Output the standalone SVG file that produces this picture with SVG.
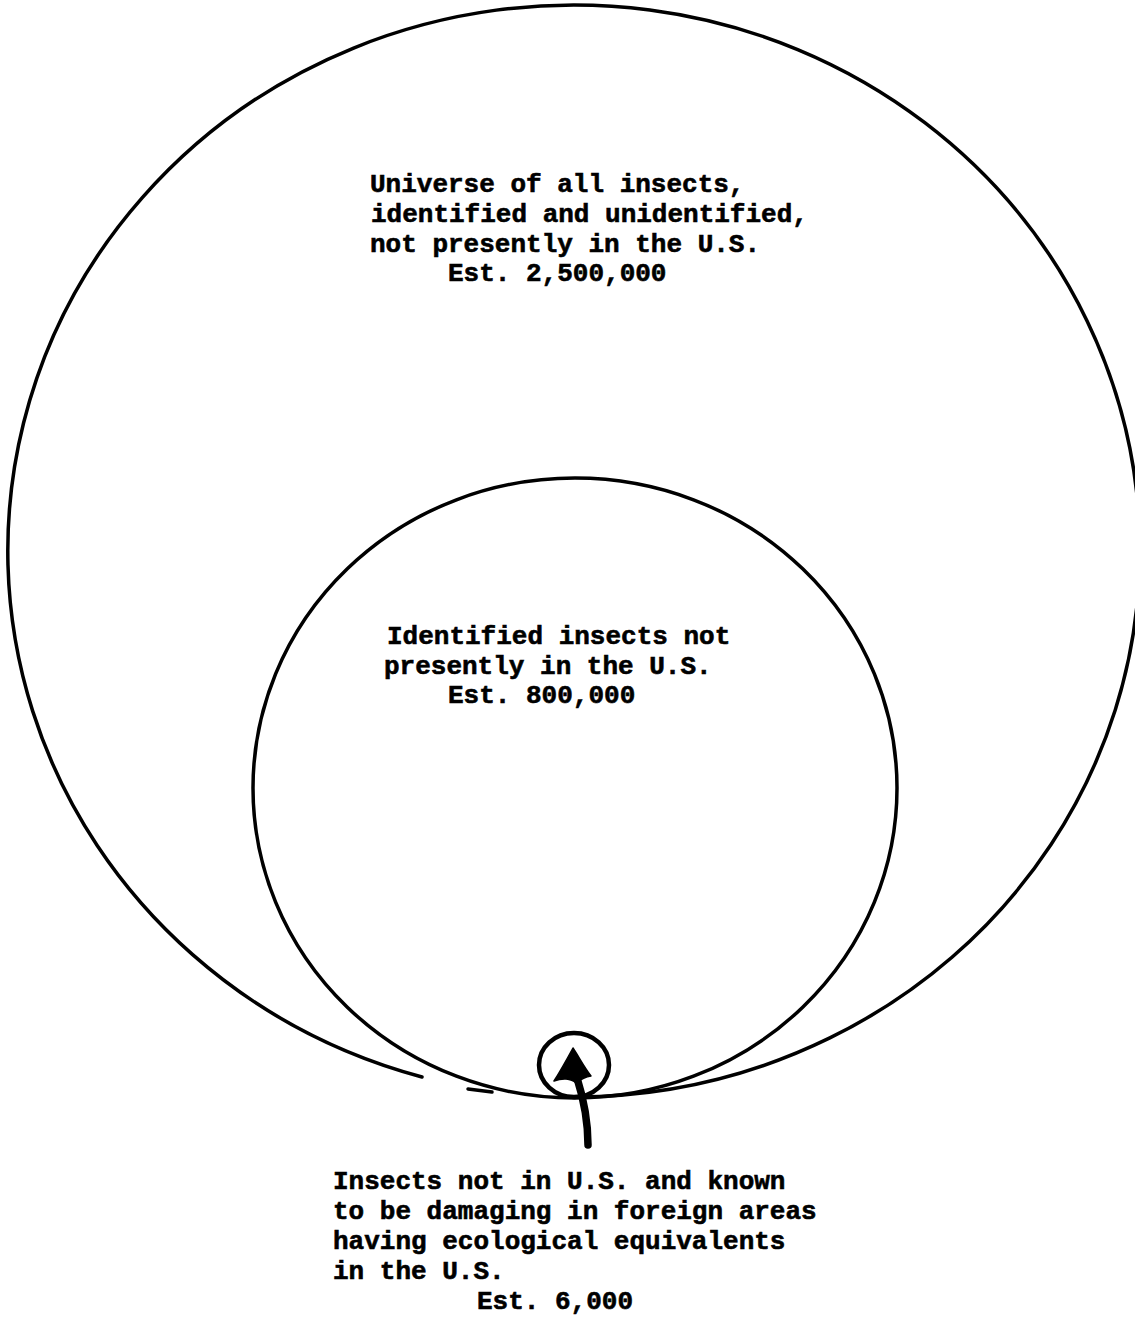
<svg xmlns="http://www.w3.org/2000/svg" width="1135" height="1318" viewBox="0 0 1135 1318">
<style>
.ring{fill:none;stroke:#000;stroke-width:3.5;stroke-linecap:round}
.lbl{font-family:"Liberation Mono","Courier New",monospace;font-weight:bold;font-size:26px;fill:#000;stroke:#000;stroke-width:0.6}
</style>
<rect width="1135" height="1318" fill="#fff"/>
<g id="universe">
<path class="ring" d="M422,1077 A566,546 0 1 1 575,1097"/>
<path class="ring" d="M468,1089 L492,1092"/>
<text class="lbl" x="370" y="192">Universe of all insects,</text>
<text class="lbl" x="371" y="222">identified and unidentified,</text>
<text class="lbl" x="370" y="252">not presently in the U.S.</text>
<text class="lbl" x="448" y="281">Est. 2,500,000</text>
</g>
<g id="identified">
<ellipse class="ring" cx="575" cy="788" rx="322" ry="310"/>
<text class="lbl" x="387" y="644">Identified insects not</text>
<text class="lbl" x="384" y="674">presently in the U.S.</text>
<text class="lbl" x="448" y="703">Est. 800,000</text>
</g>
<g id="damaging">
<ellipse cx="574" cy="1065" rx="35" ry="32" fill="none" stroke="#000" stroke-width="4.5"/>
<text class="lbl" x="333" y="1189">Insects not in U.S. and known</text>
<text class="lbl" x="333" y="1219">to be damaging in foreign areas</text>
<text class="lbl" x="333" y="1249">having ecological equivalents</text>
<text class="lbl" x="333" y="1279">in the U.S.</text>
<text class="lbl" x="477" y="1309">Est. 6,000</text>
</g>
<g id="connectors">
<path d="M588,1145 C588,1120 584,1100 577,1078" fill="none" stroke="#000" stroke-width="7.5" stroke-linecap="round"/>
<path d="M573,1048 C579,1057 584,1067 591,1076 C585,1077 580,1080 576,1083 C571,1078 562,1078 554,1081 C561,1070 567,1059 573,1048 Z" fill="#000" stroke="#000" stroke-width="1.5" stroke-linejoin="round"/>
</g>
</svg>
